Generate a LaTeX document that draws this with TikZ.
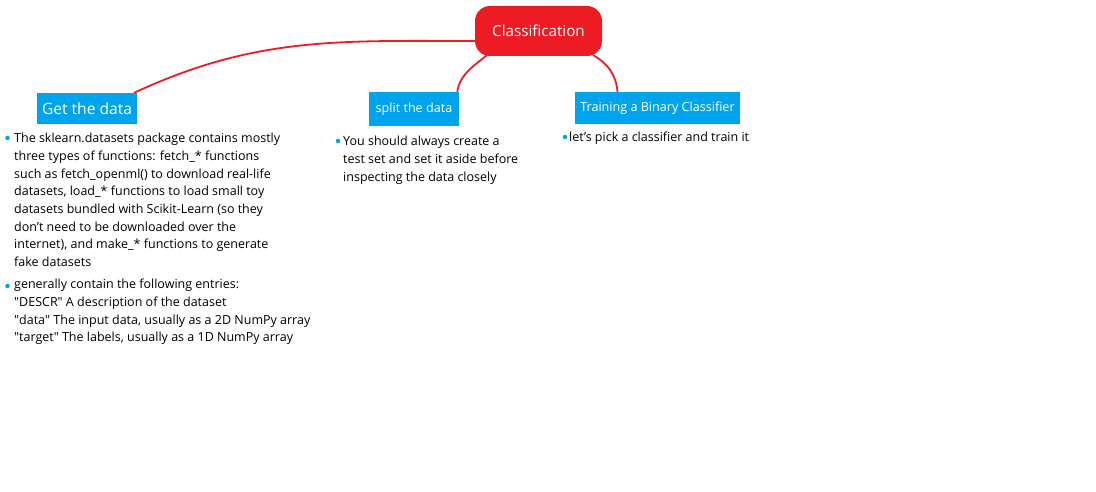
\documentclass[tikz,border=0pt]{standalone}
\usepackage{fontspec}
\setmainfont{Open Sans}
\usetikzlibrary{positioning}

\definecolor{topicred}{HTML}{ED1C24}
\definecolor{subblue}{HTML}{00A4EC}

\begin{document}
\begin{tikzpicture}[x=1pt, y=1pt,
			% 红色圆角的中心主题
			topicnode/.style={rectangle, fill=topicred, text=white, rounded corners=15pt, minimum width=127pt, minimum height=50pt, font=\fontsize{15.2}{18}\selectfont},
			% 蓝色的分支主题
			subnode/.style={rectangle, fill=subblue, text=white, inner sep=0pt, font=\fontsize{12.6}{15}\selectfont},
			% 分支下面的说明文字
			notenode/.style={anchor=north west, inner sep=0pt, align=left, font=\fontsize{12.5}{17.7}\selectfont},
			% 说明文字前面的小圆点
			dot/.style={circle, fill=subblue, inner sep=0pt, minimum size=4.5pt},
			% 红色的连接线
			link/.style={draw=topicred, line width=1.8pt}
		]
		\useasboundingbox (0,0) rectangle (1096,-492);

		%Nodes
		\node[topicnode]                                        (cls)     at (538.5,-31)  {Classification};
		\node[subnode, minimum width=100pt, minimum height=31pt, font=\fontsize{15.6}{18}\selectfont]
		                                                        (getdata) at (87,-108.5)  {Get the data};
		\node[subnode, minimum width=90pt, minimum height=34pt] (split)   at (414,-109)   {split the data};
		\node[subnode, minimum width=165pt, minimum height=32pt](train)   at (657.5,-108) {Training a Binary Classifier};

		%Notes
		\node[notenode] (getnote1)   at (14,-133)  {The sklearn.datasets package contains mostly\\
			three types of functions: fetch\_* functions\\
			such as fetch\_openml() to download real-life\\
			datasets, load\_* functions to load small toy\\
			datasets bundled with Scikit-Learn (so they\\
			don’t need to be downloaded over the\\
			internet), and make\_* functions to generate\\
			fake datasets};
		\node[notenode] (getnote2)   at (14,-279)  {generally contain the following entries:\\
			\textquotedbl DESCR\textquotedbl{} A description of the dataset\\
			\textquotedbl data\textquotedbl{} The input data, usually as a 2D NumPy array\\
			\textquotedbl target\textquotedbl{} The labels, usually as a 1D NumPy array};
		\node[notenode] (splitnote)  at (343,-136) {You should always create a\\
			test set and set it aside before\\
			inspecting the data closely};
		\node[notenode] (trainnote)  at (569,-132) {let’s pick a classifier and train it};

		\node[dot] (getdot1)  at (7.5,-138)  {};
		\node[dot] (getdot2)  at (7.5,-286)  {};
		\node[dot] (splitdot) at (338,-141)  {};
		\node[dot] (traindot) at (565,-137)  {};

		%Lines
		\draw[link] ([yshift=-10pt]cls.west)                to[out=180, in=25]  ([xshift=-3pt]getdata.north east);
		\draw[link] ([xshift=12pt,yshift=1pt]cls.south west) to[out=220, in=80]  ([xshift=-2pt]split.north east);
		\draw[link] ([xshift=-9pt,yshift=1pt]cls.south east) to[out=-30, in=95]  ([xshift=-40pt]train.north);
	\end{tikzpicture}
\end{document}
